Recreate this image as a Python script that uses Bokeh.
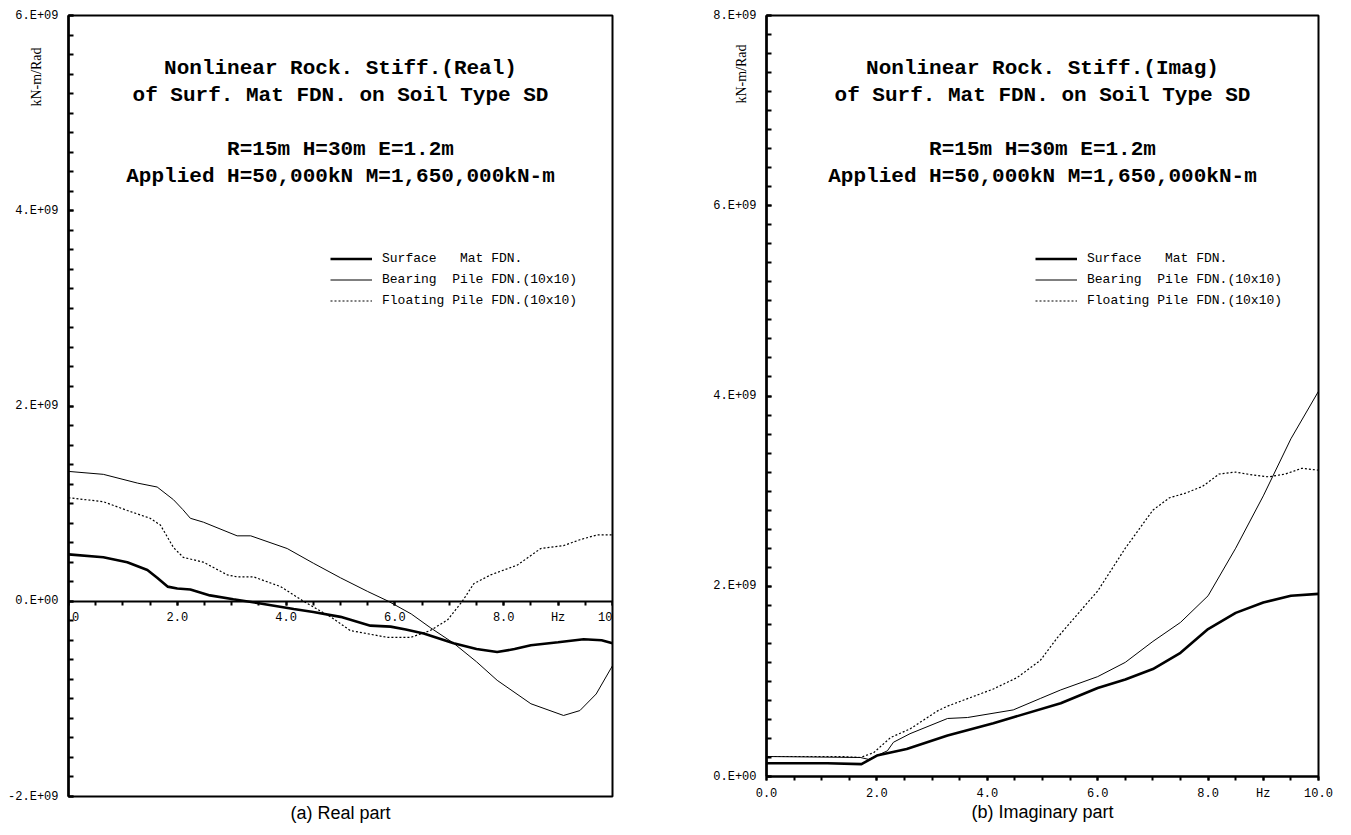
import math
from bokeh.plotting import figure
from bokeh.layouts import row
from bokeh.models import (Range1d, FixedTicker, CustomJSTickFormatter, Label, Legend,
                          LegendItem, Title)
from bokeh.embed import file_html
from bokeh.resources import INLINE

# ---------------- data (stiffness in units of 1E+09 kN-m/Rad, frequency in Hz) -------------
# (a) Real part
surface_real_f = [0, 0.64, 1.08, 1.45, 1.63, 1.82, 2.0, 2.24, 2.6, 3.03, 3.5, 4.14, 4.5, 5.0,
                  5.55, 5.92, 6.2, 6.53, 7.08, 7.5, 7.88, 8.2, 8.5, 9.0, 9.47, 9.8, 10]
surface_real_v = [0.48, 0.45, 0.40, 0.32, 0.24, 0.15, 0.13, 0.12, 0.06, 0.02, -0.02, -0.08, -0.11,
                  -0.16, -0.25, -0.26, -0.29, -0.33, -0.43, -0.49, -0.52, -0.49, -0.45, -0.42,
                  -0.39, -0.40, -0.43]
bearing_real_f = [0, 0.64, 1.27, 1.63, 1.93, 2.1, 2.24, 2.48, 3.1, 3.35, 4.02, 4.5, 5.0, 5.5,
                  5.88, 6.3, 6.65, 7.08, 7.5, 7.88, 8.5, 9.1, 9.4, 9.7, 10]
bearing_real_v = [1.33, 1.30, 1.21, 1.17, 1.04, 0.94, 0.85, 0.81, 0.67, 0.67, 0.54, 0.39, 0.24,
                  0.10, 0.0, -0.13, -0.27, -0.43, -0.62, -0.81, -1.05, -1.17, -1.12, -0.95, -0.66]
floating_real_f = [0, 0.64, 1.08, 1.5, 1.69, 1.93, 2.11, 2.48, 2.92, 3.1, 3.4, 3.9, 4.32, 4.82,
                   5.18, 5.86, 6.29, 6.65, 6.97, 7.24, 7.45, 7.76, 8.25, 8.68, 9.1, 9.4, 9.72, 10]
floating_real_v = [1.06, 1.02, 0.93, 0.85, 0.78, 0.55, 0.45, 0.40, 0.27, 0.25, 0.25, 0.15, 0.0,
                   -0.16, -0.30, -0.37, -0.37, -0.30, -0.19, 0.0, 0.18, 0.27, 0.37, 0.54, 0.57,
                   0.63, 0.68, 0.68]
# (b) Imaginary part
surface_imag_f = [0, 1.1, 1.72, 2.0, 2.54, 3.28, 4.11, 5.33, 6.0, 6.5, 7.0, 7.5, 8.0, 8.5, 9.0,
                  9.5, 10]
surface_imag_v = [0.14, 0.14, 0.13, 0.22, 0.29, 0.43, 0.56, 0.77, 0.93, 1.02, 1.13, 1.30, 1.55,
                  1.72, 1.83, 1.90, 1.92]
bearing_imag_f = [0, 1.7, 1.85, 2.19, 2.3, 2.6, 3.28, 3.64, 4.47, 4.96, 5.33, 6.0, 6.5, 7.0, 7.5,
                  8.0, 8.5, 9.0, 9.5, 10]
bearing_imag_v = [0.21, 0.20, 0.18, 0.27, 0.36, 0.45, 0.61, 0.62, 0.70, 0.82, 0.91, 1.05, 1.20,
                  1.42, 1.62, 1.90, 2.40, 2.95, 3.55, 4.05]
floating_imag_f = [0, 1.34, 1.7, 1.94, 2.25, 2.6, 3.1, 3.28, 4.11, 4.54, 4.96, 5.27, 5.7, 6.0, 6.5,
                   7.0, 7.3, 7.6, 7.9, 8.2, 8.5, 8.8, 9.1, 9.4, 9.7, 10]
floating_imag_v = [0.21, 0.21, 0.20, 0.25, 0.41, 0.50, 0.69, 0.74, 0.92, 1.04, 1.22, 1.46, 1.75,
                   1.95, 2.40, 2.80, 2.93, 2.98, 3.05, 3.18, 3.20, 3.17, 3.15, 3.18, 3.24, 3.22]

x_major = [0, 2, 4, 6, 8, 9, 10]          # 9 carries the "Hz" unit label
x_minor = [i * 0.5 for i in range(21)]
legend_labels = ["Surface\u00a0\u00a0\u00a0Mat FDN.",
                 "Bearing\u00a0\u00a0Pile FDN.(10x10)",
                 "Floating Pile FDN.(10x10)"]
title_lines_real = ["Nonlinear Rock. Stiff.(Real)", "of Surf. Mat FDN. on Soil Type SD",
                    "R=15m H=30m E=1.2m", "Applied H=50,000kN M=1,650,000kN-m"]
title_lines_imag = ["Nonlinear Rock. Stiff.(Imag)", "of Surf. Mat FDN. on Soil Type SD",
                    "R=15m H=30m E=1.2m", "Applied H=50,000kN M=1,650,000kN-m"]
y_unit = "kN-m/Rad"

MONO = "Liberation Mono"
yfmt = CustomJSTickFormatter(code="return tick == 0 ? '0.E+00' : tick.toFixed(0) + '.E+09';")
xfmt = CustomJSTickFormatter(code="return tick == 9 ? 'Hz' : tick.toFixed(1);")


def make_panel(width, height, bl, br, bt, bb, ymin, ymax, ymajor, series, titles, title_y,
               caption, cap_standoff, legend_loc, x_at_zero, unit_pad):
    p = figure(width=width, height=height, output_backend="svg", toolbar_location=None,
               x_range=Range1d(0, 10), y_range=Range1d(ymin, ymax),
               min_border_left=bl, min_border_right=br, min_border_top=bt, min_border_bottom=bb,
               background_fill_color="white", border_fill_color="white")
    p.frame_align = False
    p.grid.visible = False
    p.outline_line_color = "black"
    p.outline_line_width = 2
    p.outline_line_alpha = 1

    # x axis
    xa = p.xaxis[0]
    xa.ticker = FixedTicker(ticks=x_major, minor_ticks=x_minor)
    xa.formatter = xfmt
    xa.major_tick_in = 0
    xa.major_tick_out = 4
    xa.minor_tick_in = 0
    xa.minor_tick_out = 4
    xa.axis_line_width = 2
    xa.major_tick_line_width = 2
    xa.minor_tick_line_width = 2
    xa.major_label_standoff = 6
    xa.major_label_text_font = MONO
    xa.major_label_text_font_size = "12px"
    xa.major_label_text_color = "black"
    if x_at_zero:
        xa.fixed_location = 0

    # y axis
    ya = p.yaxis[0]
    ticks_minor = [ymin + 0.2 * i for i in range(int(round((ymax - ymin) / 0.2)) + 1)]
    ya.ticker = FixedTicker(ticks=ymajor, minor_ticks=ticks_minor)
    ya.formatter = yfmt
    ya.major_tick_in = 5
    ya.major_tick_out = 0
    ya.minor_tick_in = 5
    ya.minor_tick_out = 0
    ya.axis_line_width = 2.5
    ya.major_tick_line_width = 2
    ya.minor_tick_line_width = 2
    ya.major_label_standoff = 10
    ya.major_label_text_font = MONO
    ya.major_label_text_font_size = "12px"
    ya.major_label_text_color = "black"
    # unit label near the top of the axis: centred label, leading em-space padding
    ya.axis_label = "\u2003" * unit_pad + y_unit
    ya.axis_label_align = "center"
    ya.axis_label_standoff = -39
    ya.axis_label_text_font = "Liberation Serif"
    ya.axis_label_text_font_style = "normal"
    ya.axis_label_text_font_size = "14px"
    ya.axis_label_text_color = "black"

    # curves
    styles = [dict(line_width=2.6, line_color="black"),
              dict(line_width=1.0, line_color="black"),
              dict(line_width=1.2, line_color="black", line_dash="2 2")]
    rends = []
    for (fx, fy), st in zip(series, styles):
        rends.append(p.line(fx, fy, **st))

    legend = Legend(items=[LegendItem(label=lab, renderers=[r]) for lab, r in zip(legend_labels, rends)],
                    location=legend_loc, orientation="vertical",
                    glyph_width=42, glyph_height=17, label_height=17, label_standoff=10,
                    spacing=4, padding=0, margin=0,
                    border_line_color=None, background_fill_alpha=0,
                    label_text_font=MONO, label_text_font_size="13px", label_text_color="black")
    p.add_layout(legend, "center")

    # titles inside the frame
    for txt, yv in zip(titles, title_y):
        p.add_layout(Label(x=5.0, y=yv, text=txt, text_align="center", text_baseline="middle",
                           text_font=MONO, text_font_style="bold", text_font_size="21px",
                           text_color="black"))
    # caption below the panel
    p.add_layout(Title(text=caption, align="center", vertical_align="middle",
                       standoff=cap_standoff, text_font="Liberation Sans",
                       text_font_style="normal", text_font_size="18px", text_color="black"),
                 "below")
    return p


p1 = make_panel(680, 835, 68, 68, 15, 39, -2, 6, [-2, 0, 2, 4, 6],
                [(surface_real_f, surface_real_v), (bearing_real_f, bearing_real_v),
                 (floating_real_f, floating_real_v)],
                title_lines_real, [5.456, 5.18, 4.626, 4.349],
                "(a) Real part", 11, (262, 487), True, 47)
p2 = make_panel(671, 835, 86, 33, 15, 59, 0, 8, [0, 2, 4, 6, 8],
                [(surface_imag_f, surface_imag_v), (bearing_imag_f, bearing_imag_v),
                 (floating_imag_f, floating_imag_v)],
                title_lines_imag, [7.442, 7.158, 6.589, 6.305],
                "(b) Imaginary part", -5, (269, 467), False, 46)

layout = row(p1, p2)
open("out.html", "w").write(file_html(layout, INLINE))
